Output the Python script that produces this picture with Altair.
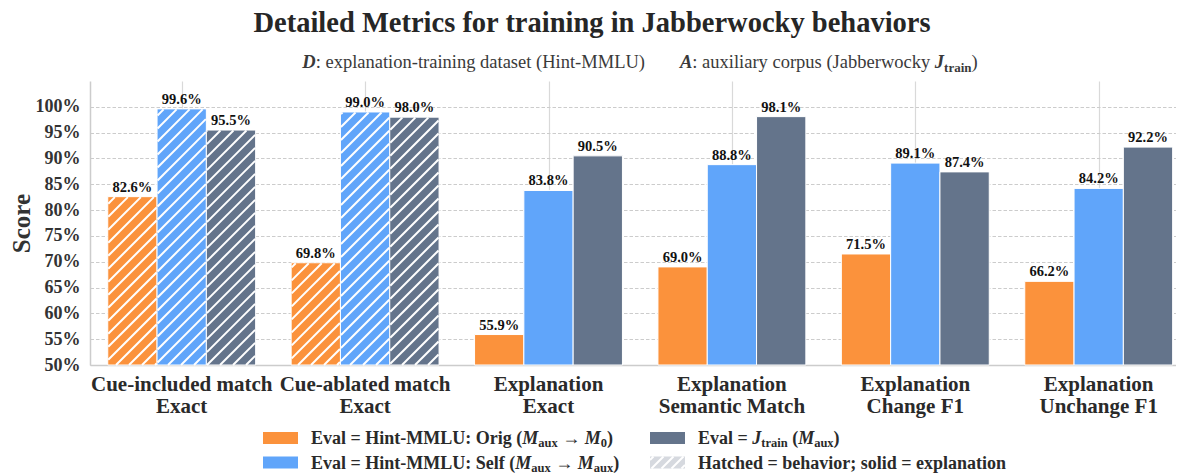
import math
import altair as alt
import pandas as pd

# ---------------- data ----------------
categories = ["Cue-included match\nExact", "Cue-ablated match\nExact", "Explanation\nExact",
              "Explanation\nSemantic Match", "Explanation\nChange F1", "Explanation\nUnchange F1"]
orig_scores = [82.6, 69.8, 55.9, 69.0, 71.5, 66.2]
self_scores = [99.6, 99.0, 83.8, 88.8, 89.1, 84.2]
jtrain_scores = [95.5, 98.0, 90.5, 98.1, 87.4, 92.2]
hatched = [True, True, False, False, False, False]
series_names = ["orig", "self", "jtrain"]
y_ticks = [50, 55, 60, 65, 70, 75, 80, 85, 90, 95, 100]

title_text = "Detailed Metrics for training in Jabberwocky behaviors"

# ---------------- style / layout ----------------
FONT = "Liberation Serif"
COLORS = ["#FB923C", "#60A5FA", "#64748B"]
HATCH_SWATCH = "#d6d9df"
TXT = "#2a2a2a"

LEFT, TOP = 90, 81          # page position of plot origin
W, H = 1086, 284
XPX = 183.4                 # pixels per group
XMIN = -0.5
XMAX = XMIN + W / XPX
YMIN, YMAX = 50, 105
YPX = H / (YMAX - YMIN)
BW = 49.3 / XPX             # bar width in group units
PERIOD = 13.0               # hatch period (px)


def dx(px):
    return XMIN + (px - LEFT) / XPX


def dy(py):
    return YMAX - (py - TOP) / YPX


def px_of(x):
    return LEFT + (x - XMIN) * XPX


def py_of(y):
    return TOP + (YMAX - y) * YPX


# Times / Liberation Serif advance widths (1/1000 em)
_R = {' ': 250, '(': 333, ')': 333, '-': 333, ':': 278, ';': 278, '.': 250, '=': 564, '%': 833,
      'A': 722, 'B': 667, 'C': 667, 'D': 722, 'E': 611, 'F': 556, 'G': 722, 'H': 722, 'I': 333,
      'J': 389, 'K': 722, 'L': 611, 'M': 889, 'N': 722, 'O': 722, 'P': 556, 'R': 667, 'S': 556,
      'T': 611, 'U': 722, 'a': 444, 'b': 500, 'c': 444, 'd': 500, 'e': 444, 'f': 333, 'g': 500,
      'h': 500, 'i': 278, 'j': 278, 'k': 500, 'l': 278, 'm': 778, 'n': 500, 'o': 500, 'p': 500,
      'q': 500, 'r': 333, 's': 389, 't': 278, 'u': 500, 'v': 500, 'w': 722, 'x': 500, 'y': 500,
      'z': 444, '\u2192': 1000}
_B = {' ': 250, '(': 333, ')': 333, '-': 333, ':': 333, ';': 333, '.': 250, '=': 570, '%': 1000,
      'A': 722, 'B': 667, 'C': 722, 'D': 722, 'E': 667, 'F': 611, 'G': 778, 'H': 778, 'I': 389,
      'J': 500, 'K': 778, 'L': 667, 'M': 944, 'N': 722, 'O': 778, 'P': 611, 'R': 722, 'S': 556,
      'T': 667, 'U': 722, 'a': 500, 'b': 556, 'c': 444, 'd': 556, 'e': 444, 'f': 333, 'g': 500,
      'h': 556, 'i': 278, 'j': 333, 'k': 556, 'l': 278, 'm': 833, 'n': 556, 'o': 500, 'p': 556,
      'q': 556, 'r': 444, 's': 389, 't': 333, 'u': 556, 'v': 500, 'w': 722, 'x': 500, 'y': 500,
      'z': 444, '\u2192': 1000}
_BI = dict(_B)
_BI.update({'A': 667, 'D': 722, 'J': 500, 'M': 889})
TABLES = {"R": _R, "B": _B, "BI": _BI}


def tw(text, kind, size):
    t = TABLES[kind]
    return sum(t.get(ch, 500) for ch in text) * size / 1000.0


def width_parts(parts):
    return sum(tw(t, k, s) for t, k, s, _ in parts)


def chain(x0, base, parts, out, color):
    x = x0
    for text, kind, size, shift in parts:
        stripped = text.lstrip(' ')
        lead = tw(text[:len(text) - len(stripped)], kind, size)
        out.append(dict(px=x + lead, py=base + shift, text=stripped.rstrip(' '),
                        size=size, kind=kind, color=color))
        x += tw(text, kind, size)
    return x


# ---------------- bars ----------------
rows = []
for gi, cat in enumerate(categories):
    vals = [orig_scores[gi], self_scores[gi], jtrain_scores[gi]]
    for si, s in enumerate(series_names):
        c = gi + (si - 1) * BW
        rows.append(dict(cat=cat, series=s, value=vals[si], x0=c - BW / 2, x1=c + BW / 2,
                         xc=c, base=YMIN, label=f"{vals[si]:.1f}%", hatched=hatched[gi]))
bars = pd.DataFrame(rows)


def hatch(x0p, x1p, ytp, ybp, period, out):
    k0 = math.ceil((x0p + ytp) / period)
    k1 = math.floor((x1p + ybp) / period)
    for k in range(k0, k1 + 1):
        c = k * period
        xa = max(x0p, c - ybp)
        xb = min(x1p, c - ytp)
        if xb - xa > 0.4:
            out.append(dict(x=dx(xa), y=dy(c - xa), x2=dx(xb), y2=dy(c - xb)))


hatch_rows = []
for r in rows:
    if r["hatched"]:
        hatch(px_of(r["x0"]) + 0.5, px_of(r["x1"]) - 0.5, py_of(r["value"]) + 0.5,
              py_of(YMIN), PERIOD, hatch_rows)

# ---------------- legend ----------------
SUB = 12.5
SH = 3
FS_LEG = 18
leg_rows = [444, 468.5]
sw_cols = [(263, 298), (650, 685)]
txt_cols = [311, 698]

legend_parts = [
    [("Eval = Hint-MMLU: Orig (", "B", FS_LEG, 0), ("M", "BI", FS_LEG, 0), ("aux", "B", SUB, SH),
     (" \u2192 ", "B", FS_LEG, 0), ("M", "BI", FS_LEG, 0), ("0", "B", SUB, SH), (")", "B", FS_LEG, 0)],
    [("Eval = Hint-MMLU: Self (", "B", FS_LEG, 0), ("M", "BI", FS_LEG, 0), ("aux", "B", SUB, SH),
     (" \u2192 ", "B", FS_LEG, 0), ("M", "BI", FS_LEG, 0), ("aux", "B", SUB, SH), (")", "B", FS_LEG, 0)],
    [("Eval = ", "B", FS_LEG, 0), ("J", "BI", FS_LEG, 0), ("train", "B", SUB, SH), (" (", "B", FS_LEG, 0),
     ("M", "BI", FS_LEG, 0), ("aux", "B", SUB, SH), (")", "B", FS_LEG, 0)],
    [("Hatched = behavior; solid = explanation", "B", FS_LEG, 0)],
]
legend_slots = [(0, 0), (0, 1), (1, 0), (1, 1)]   # (column, row)
legend_fill = [COLORS[0], COLORS[1], COLORS[2], HATCH_SWATCH]

pieces = []
sw_rows = []
sw_hatch = []
for parts, (ci, ri), fill in zip(legend_parts, legend_slots, legend_fill):
    base = leg_rows[ri]
    chain(txt_cols[ci], base, parts, pieces, TXT)
    x0p, x1p = sw_cols[ci]
    y0p, y1p = base - 12, base
    sw_rows.append(dict(x=dx(x0p), x2=dx(x1p), y=dy(y0p), y2=dy(y1p), fill=fill))
    if fill == HATCH_SWATCH:
        hatch(x0p, x1p, y0p, y1p, 10.0, sw_hatch)

# ---------------- subtitle ----------------
FS_SUB = 18.5
SUB_COL = "#3a3a3a"
sub_a = [("D", "BI", FS_SUB, 0), (": explanation-training dataset (Hint-MMLU)", "R", FS_SUB, 0)]
sub_b = [("A", "BI", FS_SUB, 0), (": auxiliary corpus (Jabberwocky ", "R", FS_SUB, 0),
         ("J", "BI", FS_SUB, 0), ("train", "B", 13, 3.5), (")", "R", FS_SUB, 0)]
GAP = 35
total = width_parts(sub_a) + GAP + width_parts(sub_b)
sx = 640 - total / 2
end_a = chain(sx, 68, sub_a, pieces, SUB_COL)
chain(end_a + GAP, 68, sub_b, pieces, SUB_COL)

pieces_df = pd.DataFrame(pieces)
pieces_df["x"] = pieces_df["px"].map(dx)
pieces_df["y"] = pieces_df["py"].map(dy)

# ---------------- encodings ----------------
xscale = alt.Scale(domain=[XMIN, XMAX], nice=False, zero=False)
yscale = alt.Scale(domain=[YMIN, YMAX], nice=False, zero=False)
xaxis = alt.Axis(values=list(range(len(categories))), labels=False, ticks=False, title=None,
                 domainColor="#cccccc", domainWidth=1.5, grid=True, gridColor="#d9d9d9",
                 gridWidth=1.2)
yaxis = alt.Axis(values=y_ticks, labelExpr="datum.value + '%'", ticks=False, labelPadding=10,
                 labelFont=FONT, labelFontSize=18, labelFontWeight="bold", labelColor="#333333",
                 labelOverlap=False, domainColor="#cccccc", domainWidth=1.5, grid=True,
                 gridColor="#cccccc", gridDash=[3.5, 2], gridWidth=1, title="Score",
                 titleFont=FONT, titleFontSize=25, titleFontWeight="bold", titleColor="#333333",
                 titleX=-69, titleY=H / 2, titleAngle=-90, titleAlign="center",
                 titleBaseline="middle")


def X(f):
    return alt.X(f, type="quantitative", scale=xscale, axis=xaxis)


def Y(f):
    return alt.Y(f, type="quantitative", scale=yscale, axis=yaxis)


layers = []

layers.append(alt.Chart(bars).mark_rect(stroke="white", strokeWidth=1).encode(
    x=X("x0"), x2="x1", y=Y("base"), y2="value",
    color=alt.Color("series:N", scale=alt.Scale(domain=series_names, range=COLORS), legend=None)))

layers.append(alt.Chart(pd.DataFrame(hatch_rows)).mark_rule(
    color="white", strokeWidth=2, strokeCap="butt").encode(x=X("x"), y=Y("y"), x2="x2", y2="y2"))

layers.append(alt.Chart(bars).mark_text(
    font=FONT, fontSize=14.5, fontWeight="bold", color="#111111", baseline="alphabetic",
    dy=-5).encode(x=X("xc"), y=Y("value"), text="label:N"))

xl = pd.DataFrame(dict(x=list(range(len(categories))), label=categories))
xl["y"] = dy(391)
layers.append(alt.Chart(xl).mark_text(
    font=FONT, fontSize=21, fontWeight="bold", color=TXT, baseline="alphabetic",
    lineBreak="\n", lineHeight=22).encode(x=X("x"), y=Y("y"), text="label:N"))

title_df = pd.DataFrame([dict(x=dx(592), y=dy(32), text=title_text)])
layers.append(alt.Chart(title_df).mark_text(
    font=FONT, fontSize=28.5, fontWeight="bold", color="#262626", baseline="alphabetic",
    align="center").encode(x=X("x"), y=Y("y"), text="text:N"))

layers.append(alt.Chart(pd.DataFrame(sw_rows)).mark_rect().encode(
    x=X("x"), x2="x2", y=Y("y"), y2="y2", color=alt.Color("fill:N", scale=None)))
layers.append(alt.Chart(pd.DataFrame(sw_hatch)).mark_rule(
    color="white", strokeWidth=2, strokeCap="butt").encode(x=X("x"), y=Y("y"), x2="x2", y2="y2"))

styles = {"R": ("normal", "normal"), "B": ("bold", "normal"), "BI": ("bold", "italic")}
for (size, kind, col), grp in pieces_df.groupby(["size", "kind", "color"]):
    weight, fstyle = styles[kind]
    layers.append(alt.Chart(grp[["x", "y", "text"]].reset_index(drop=True)).mark_text(
        font=FONT, fontSize=float(size), fontWeight=weight, fontStyle=fstyle, color=col,
        align="left", baseline="alphabetic").encode(x=X("x"), y=Y("y"), text="text:N"))

chart = alt.layer(*layers).properties(
    width=W, height=H,
    autosize=alt.AutoSizeParams(type="none"),
    padding={"left": LEFT - 8, "top": TOP - 8, "right": 0, "bottom": 466 - (TOP - 8) - H},
    background="white",
).configure_view(stroke=None)

chart.save("out.html", embed_options={"renderer": "svg", "actions": False})
